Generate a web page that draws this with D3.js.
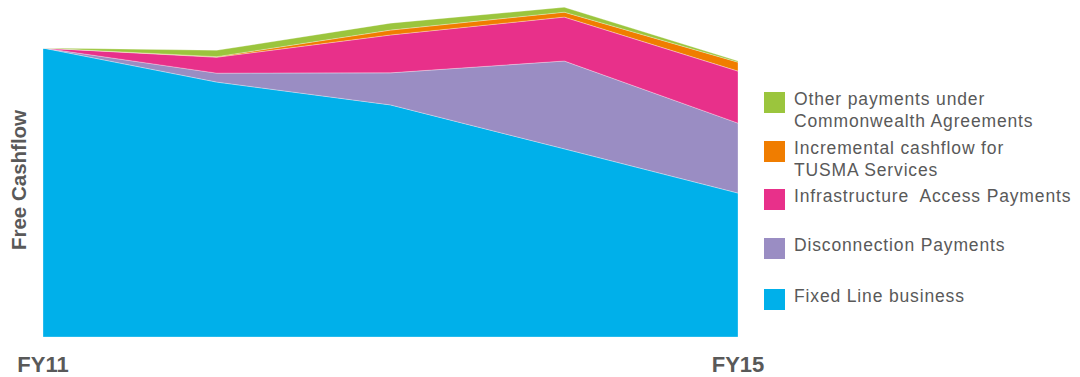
<!DOCTYPE html>
<html>
<head>
<meta charset="utf-8">
<script src="https://cdn.jsdelivr.net/npm/d3@7"></script>
<style>
  body { margin: 0; background: #fff; }
  text { font-family: "Liberation Sans", Arial, sans-serif; fill: #595959; }
</style>
</head>
<body>
<svg id="chart" width="1080" height="377"></svg>
<script>
// index values, FY11 total = 100
const years = ['FY11', 'FY12', 'FY13', 'FY14', 'FY15']
const axisLabels = ['FY11', 'FY15']
const fixedLine = [100, 88.2, 80.3, 65.1, 49.8]
const disconnection = [0, 3.1, 11.1, 30.4, 24.2]
const infrastructure = [0, 5.5, 13.1, 15.2, 18.0]
const tusma = [0, 0.2, 1.7, 1.7, 3.1]
const otherPayments = [0, 2.2, 2.4, 1.7, 0.4]

const seriesNames = ['fixed', 'disc', 'infra', 'tusma', 'other']
const seriesColors = ['#00b0ea', '#9a8dc3', '#e8308a', '#f07d00', '#9bc53d']

// legend goes top to bottom, lines split where the original wraps
const legendLabels = [
  ['Other payments under', 'Commonwealth Agreements'],
  ['Incremental cashflow for', 'TUSMA Services'],
  ['Infrastructure  Access Payments'],
  ['Disconnection Payments'],
  ['Fixed Line business']
]
const legendKeys = ['other', 'tusma', 'infra', 'disc', 'fixed']

let rows = years.map((y, i) => ({
  year: y,
  fixed: fixedLine[i],
  disc: disconnection[i],
  infra: infrastructure[i],
  tusma: tusma[i],
  other: otherPayments[i]
}))

const svg = d3.select('#chart')
const MARGIN = {left: 43, right: 738, bottom: 337, top: 48}

let x = d3.scalePoint().domain(years).range([MARGIN.left, MARGIN.right])
let y = d3.scaleLinear().domain([0, 100]).range([MARGIN.bottom, MARGIN.top])
let color = d3.scaleOrdinal().domain(seriesNames).range(seriesColors)

let stacked = d3.stack().keys(seriesNames)(rows)

let area = d3.area()
  .x(d => x(d.data.year))
  .y0(d => y(d[0]))
  .y1(d => y(d[1]))

svg.append('g').selectAll('path')
  .data(stacked)
  .enter().append('path')
  .attr('d', area)
  .attr('fill', d => color(d.key))
  .attr('stroke', '#ffffff')
  .attr('stroke-opacity', 0.5)
  .attr('stroke-width', 0.6)

// x labels, only first and last year
svg.append('g').selectAll('text')
  .data(axisLabels)
  .enter().append('text')
  .attr('x', d => x(d))
  .attr('y', 372)
  .attr('text-anchor', 'middle')
  .attr('font-size', 22)
  .attr('font-weight', 'bold')
  .text(d => d)

svg.append('text')
  .attr('transform', 'translate(26,180) rotate(-90)')
  .attr('text-anchor', 'middle')
  .attr('font-size', 20.5)
  .attr('font-weight', 'bold')
  .text('Free Cashflow')

// legend
const legendY = [92, 141, 189, 238, 289]
let legend = svg.append('g')
  .selectAll('g')
  .data(legendKeys)
  .enter().append('g')
  .attr('transform', (d, i) => 'translate(764,' + legendY[i] + ')')

legend.append('rect')
  .attr('width', 21)
  .attr('height', 21)
  .attr('fill', d => color(d))

legend.each(function(d, i) {
  d3.select(this).selectAll('text')
    .data(legendLabels[i])
    .enter().append('text')
    .attr('x', 30)
    .attr('y', (t, j) => 13 + j * 22)
    .attr('font-size', 17.5)
    .attr('letter-spacing', 0.85)
    .style('white-space', 'pre')
    .text(t => t)
})
</script>
</body>
</html>
